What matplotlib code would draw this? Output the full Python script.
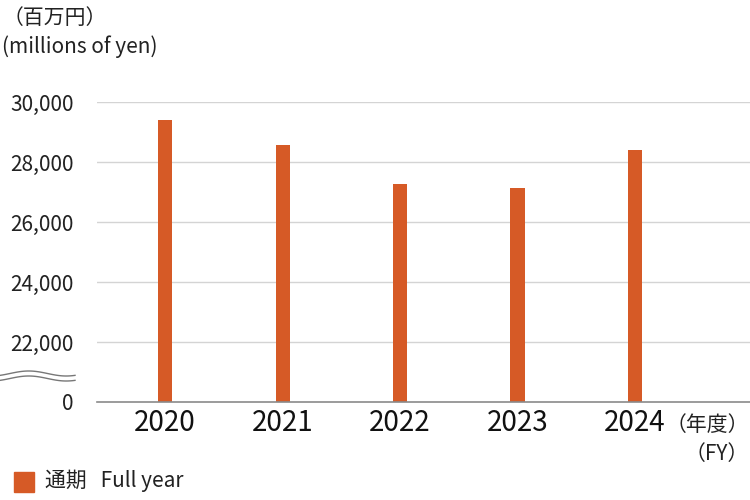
import numpy as np
import matplotlib.pyplot as plt
from matplotlib.patches import Rectangle
from matplotlib.lines import Line2D

plt.rcParams['font.family'] = ['Noto Sans CJK JP', 'DejaVu Sans']

years = ['2020', '2021', '2022', '2023', '2024']
full_year = [29400, 28580, 27270, 27130, 28400]
y_ticks = [20000, 22000, 24000, 26000, 28000, 30000]
y_tick_labels = ['0', '22,000', '24,000', '26,000', '28,000', '30,000']
bar_color = '#D65A26'

fig = plt.figure(figsize=(7.5, 5), dpi=100)
ax = fig.add_axes([97 / 750, 1 - 402 / 500, 1 - 97 / 750, 300 / 500])

x = np.arange(len(years))
# broken axis: bars start from the "0" position (drawn at 20000)
ax.bar(x, [v - 20000 for v in full_year], bottom=20000, width=0.12, color=bar_color, zorder=3)

ax.set_ylim(20000, 30000)
ax.set_xlim(-0.58, 4.98)
ax.set_yticks(y_ticks)
ax.set_yticklabels(y_tick_labels, fontsize=15, color='#222222')
ax.set_xticks(x)
ax.set_xticklabels(years, fontsize=20, color='#111111')
ax.tick_params(axis='both', length=0)
ax.tick_params(axis='y', pad=17)
ax.tick_params(axis='x', pad=4)
for s in ax.spines.values():
    s.set_visible(False)
for t in y_ticks[1:]:
    ax.axhline(t, color='#d4d4d4', lw=1, zorder=1)
ax.axhline(20000, color='#8a8a8a', lw=1.2, zorder=4, clip_on=False)

# wavy break marks
wx = np.linspace(0, 75, 100)
wy = 2.5 * np.sin((wx - 10) / 75 * 2 * np.pi)
for off in (-2.5, 2.5):
    fig.add_artist(Line2D(wx / 750, 1 - (376 + off - wy) / 500,
                          color='#777777', lw=1, transform=fig.transFigure))

fig.text(0.003, 1 - 18 / 500, '（百万円）', fontsize=15, va='center', ha='left', color='#222222')
fig.text(0.003, 1 - 47 / 500, '(millions of yen)', fontsize=15, va='center', ha='left', color='#222222')
fig.text(749 / 750, 1 - 425 / 500, '（年度）', fontsize=15, va='center', ha='right', color='#222222')
fig.text(749 / 750, 1 - 454 / 500, '（FY）', fontsize=15, va='center', ha='right', color='#222222')

fig.add_artist(Rectangle((14 / 750, 1 - 492 / 500), 20 / 750, 20 / 500,
                         color=bar_color, transform=fig.transFigure))
fig.text(45 / 750, 1 - 481 / 500, '通期   Full year', fontsize=15, va='center', ha='left', color='#222222')

fig.savefig('out.png', dpi=100)
